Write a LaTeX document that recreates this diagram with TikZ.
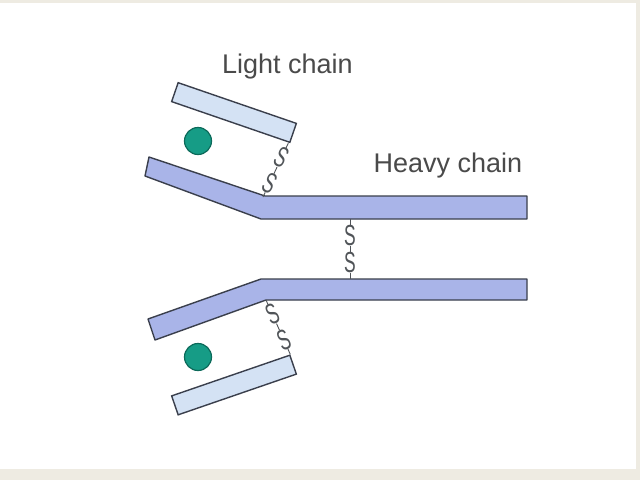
\documentclass[tikz,border=0pt]{standalone}
\usepackage{fontspec}
\setmainfont{Liberation Sans}
\begin{document}
\begin{tikzpicture}[
            x=1pt, y=-1pt,
            heavybar/.style={draw=outl, fill=heavyc, line width=1.4pt, line join=round},
            lightbar/.style={draw=outl, fill=lightc, line width=1.4pt, minimum width=125pt, minimum height=20pt, inner sep=0pt},
            ion/.style={circle, draw=iondark, fill=ionc, line width=1.2pt, minimum size=27pt, inner sep=0pt},
            ssbond/.style={draw=bondc, line width=0.9pt},
            satom/.style={fill=white, inner sep=0pt, text=bondc, font=\fontsize{29}{29}\selectfont},
            label/.style={anchor=base, text=textc, font=\fontsize{27}{27}\selectfont}
            ]
            \definecolor{outl}{HTML}{3A3F4C}
            \definecolor{heavyc}{HTML}{A9B4E8}
            \definecolor{lightc}{HTML}{D4E2F4}
            \definecolor{ionc}{HTML}{169C86}
            \definecolor{iondark}{HTML}{0C6A5A}
            \definecolor{bondc}{HTML}{505458}
            \definecolor{textc}{HTML}{4A4A4A}
            \definecolor{beige}{HTML}{EEEBE2}
            \useasboundingbox (0,0) rectangle (640,480);
            \fill[beige] (0,0) rectangle (640,480);
            \fill[white] (0,3) rectangle (636,469);
            % heavy chains
            \draw[heavybar] (149,157) -- (265,196) -- (527,196) -- (527,219) -- (261,219) -- (145,176) -- cycle;
            \draw[heavybar] (148,319) -- (261,279) -- (527,279) -- (527,300) -- (266,300) -- (155,340) -- cycle;
            \coordinate (h1) at (263,197);
            \coordinate (h1b) at (350,219);
            \coordinate (h2t) at (350,279);
            \coordinate (h2) at (266,300);
            % light chains
            \node[lightbar, rotate=-19] (l1) at (234,112.5) {};
            \node[lightbar, rotate=19] (l2) at (234,385) {};
            \node[ion] (c1) at (198,141) {};
            \node[ion] (c2) at (198,357) {};
            % disulfide bonds
            \draw[ssbond] ([xshift=-2pt]l1.south east) -- (h1)
                node[satom, pos=0.27, rotate=-27, xscale=0.6] (s1) {S}
                node[satom, pos=0.74, rotate=-27, xscale=0.6] (s2) {S};
            \draw[ssbond] (h1b) -- (h2t)
                node[satom, pos=0.28, xscale=0.6] (s3) {S}
                node[satom, pos=0.73, xscale=0.6] (s4) {S};
            \draw[ssbond] (h2) -- (l2.north east)
                node[satom, pos=0.26, rotate=23, xscale=0.6] (s5) {S}
                node[satom, pos=0.73, rotate=23, xscale=0.6] (s6) {S};
            % labels
            \node[label] (lt) at (287.5,73) {Light chain};
            \node[label] (ht) at (448,172) {Heavy chain};
        \end{tikzpicture}
\end{document}
